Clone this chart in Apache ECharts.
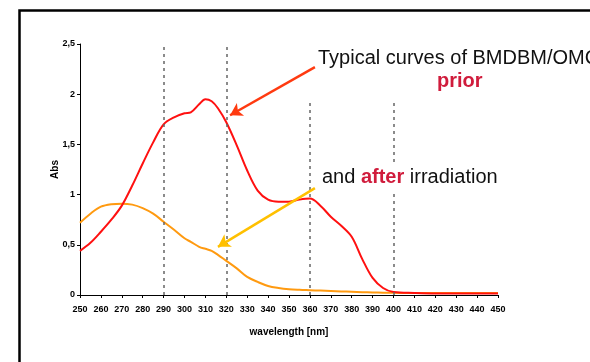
<!DOCTYPE html>
<html>
<head>
<meta charset="utf-8">
<script src="https://cdn.jsdelivr.net/npm/echarts@6/dist/echarts.min.js"></script>
<style>
html, body { margin: 0; padding: 0; background: #fff; }
#spectra { width: 590px; height: 362px; }
</style>
</head>
<body>
<div id="spectra"></div>
<script>
// wavelength [nm]
var wavelengths = [250, 255, 260, 265, 270, 275, 280, 285, 290, 295, 300, 303, 307, 310, 313, 316, 320, 325, 330, 335, 340, 345, 350, 355, 360, 365, 370, 375, 380, 385, 390, 395, 400, 410, 420, 430, 440, 450]
// absorbance before irradiation
var absPrior = [0.44, 0.52, 0.63, 0.75, 0.89, 1.09, 1.31, 1.52, 1.7, 1.77, 1.81, 1.82, 1.9, 1.95, 1.93, 1.86, 1.72, 1.49, 1.24, 1.04, 0.95, 0.93, 0.93, 0.95, 0.96, 0.89, 0.78, 0.69, 0.58, 0.36, 0.17, 0.07, 0.03, 0.02, 0.015, 0.015, 0.015, 0.015]
// absorbance after irradiation
var absAfter = [0.72, 0.81, 0.88, 0.905, 0.91, 0.9, 0.865, 0.81, 0.73, 0.65, 0.565, 0.53, 0.48, 0.46, 0.44, 0.4, 0.34, 0.265, 0.18, 0.13, 0.09, 0.07, 0.058, 0.052, 0.048, 0.044, 0.04, 0.036, 0.032, 0.028, 0.025, 0.023, 0.022, 0.02, 0.02, 0.02, 0.02, 0.02]
// dashed guide lines [wavelength, top value]
var guides = [[290, 2.5], [320, 2.5], [360, 1.93], [400, 1.93]]
// annotation arrows [[from x, from y], [to x, to y]]
var arrowPrior = [[362.4, 2.27], [321.8, 1.79]]
var arrowAfter = [[362.4, 1.065], [316, 0.48]]

function pairs(xs, ys) {
    return xs.map(function(x, i) { return [x, ys[i]] })
}

var chart = echarts.init(document.getElementById('spectra'))
var tickFont = {
    fontFamily: 'Liberation Sans, Arial, sans-serif',
    fontWeight: 'bold',
    fontSize: 9,
    color: '#000'
}
var nameFont = { fontFamily: 'Liberation Sans, Arial, sans-serif', fontWeight: 'bold', fontSize: 10, color: '#000' }
var option = {
    animation: false,
    grid: { left: 80, right: 92, top: 44, bottom: 67 },
    xAxis: {
        type: 'value',
        min: 250,
        max: 450,
        interval: 10,
        name: 'wavelength [nm]',
        nameLocation: 'middle',
        nameGap: 32,
        nameMoveOverlap: false,
        nameTextStyle: nameFont,
        axisLine: { lineStyle: { color: '#000', width: 1 } },
        axisTick: { length: 3, lineStyle: { color: '#000' } },
        axisLabel: Object.assign({ margin: 10 }, tickFont),
        splitLine: { show: false }
    },
    yAxis: {
        type: 'value',
        min: 0,
        max: 2.5,
        interval: 0.5,
        name: 'Abs',
        nameLocation: 'middle',
        nameRotate: 90,
        nameGap: 20,
        nameMoveOverlap: false,
        nameTextStyle: nameFont,
        axisLine: { show: true, lineStyle: { color: '#000', width: 1 } },
        axisTick: { show: true, length: 3, lineStyle: { color: '#000' } },
        axisLabel: Object.assign({
            margin: 5,
            formatter: function(v) { return String(v).replace('.', ',') }
        }, tickFont),
        splitLine: { show: false }
    },
    series: [
        {
            name: 'prior',
            type: 'line',
            smooth: 0.35,
            symbol: 'none',
            data: pairs(wavelengths, absPrior),
            lineStyle: { color: '#ff1010', width: 2 },
            z: 3,
            markLine: {
                silent: true,
                symbol: ['none', 'none'],
                label: { show: false },
                lineStyle: { color: '#666', type: [3, 4], width: 1.5 },
                data: guides.map(function(g) { return [{ coord: [g[0], 0] }, { coord: [g[0], g[1]] }] })
            }
        },
        {
            name: 'after',
            type: 'line',
            smooth: 0.35,
            symbol: 'none',
            data: pairs(wavelengths, absAfter),
            lineStyle: { color: '#ff9a10', width: 2 },
            z: 2
        },
        {
            name: 'arrows',
            type: 'line',
            data: [],
            markLine: {
                silent: true,
                symbol: ['none', 'arrow'],
                symbolSize: [11, 12],
                label: { show: false },
                data: [
                    [{ coord: arrowPrior[0], lineStyle: { color: '#ff3a10', width: 2.5, type: 'solid' } }, { coord: arrowPrior[1] }],
                    [{ coord: arrowAfter[0], lineStyle: { color: '#ffc000', width: 2.5, type: 'solid' } }, { coord: arrowAfter[1] }]
                ]
            },
            z: 5
        }
    ],
    graphic: [
        {
            type: 'rect',
            z: 100,
            shape: { x: 19.5, y: 10.5, width: 700, height: 500 },
            style: { fill: 'none', stroke: '#000', lineWidth: 2.5 }
        },
        {
            type: 'text',
            z: 100,
            left: 318,
            top: 48,
            style: {
                text: 'Typical curves of BMDBM/OMC',
                font: '20px "Liberation Sans", Arial, sans-serif',
                fill: '#111'
            }
        },
        {
            type: 'text',
            z: 100,
            left: 437,
            top: 71,
            style: {
                text: 'prior',
                font: 'bold 20px "Liberation Sans", Arial, sans-serif',
                fill: '#d01c3c'
            }
        },
        {
            type: 'text',
            z: 100,
            left: 318,
            top: 164,
            style: {
                text: 'and {b|after} irradiation',
                font: '20px "Liberation Sans", Arial, sans-serif',
                fill: '#111',
                backgroundColor: '#fff',
                padding: [3, 4, 5, 4],
                rich: {
                    b: { font: 'bold 20px "Liberation Sans", Arial, sans-serif', fill: '#d01c3c' }
                }
            }
        }
    ]
}
chart.setOption(option)
</script>
</body>
</html>
